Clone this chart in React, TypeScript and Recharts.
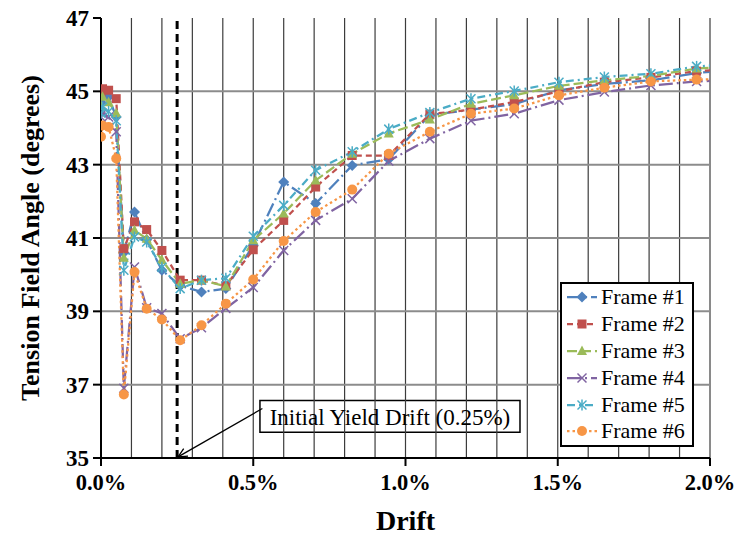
import React from "react";
import {
  LineChart,
  Line,
  XAxis,
  YAxis,
  ReferenceLine,
  ReferenceArea,
} from "recharts";

// drift in percent
const drift = [
  0, 0.005, 0.025, 0.05, 0.075, 0.11, 0.15, 0.2, 0.26, 0.33, 0.41, 0.5, 0.6,
  0.705, 0.825, 0.945, 1.08, 1.215, 1.357, 1.504, 1.653, 1.806, 1.956, 2.11,
];

const frame1 = [
  44.7, 44.9, 44.85, 44.3, 40.6, 41.71, 40.95, 40.12, 39.7, 39.53, 39.62, 40.8,
  42.53, 41.94, 42.98, 43.15, 44.35, 44.5, 44.65, 45.03, 45.2, 45.3, 45.5, 45.6,
];
const frame2 = [
  44.9, 45.07, 45.03, 44.8, 40.71, 41.44, 41.23, 40.66, 39.85, 39.85, 39.7,
  40.68, 41.48, 42.39, 43.25, 43.25, 44.38, 44.5, 44.71, 45.0, 45.25, 45.38,
  45.55, 45.62,
];
const frame3 = [
  44.6, 44.85, 44.7, 44.4, 40.46, 41.21, 40.98, 40.4, 39.75, 39.85, 39.68,
  40.94, 41.67, 42.57, 43.3, 43.85, 44.23, 44.66, 44.89, 45.15, 45.3, 45.42,
  45.62, 45.7,
];
const frame4 = [
  44.3, 44.4, 44.3, 43.9, 36.9, 40.21, 39.1, 38.94, 38.25, 38.55, 39.08, 39.65,
  40.66, 41.48, 42.07, 43.1, 43.71, 44.2, 44.39, 44.76, 44.98, 45.16, 45.27,
  45.32,
];
const frame5 = [
  44.4, 44.57, 44.45, 44.2, 40.12, 41.03, 40.89, 40.2, 39.62, 39.85, 39.9,
  41.05, 41.89, 42.85, 43.35, 43.97, 44.42, 44.8, 45.01, 45.25, 45.39, 45.48,
  45.68, 45.75,
];
const frame6 = [
  43.76, 44.07, 44.03, 43.17, 36.73, 40.07, 39.07, 38.78, 38.21, 38.62, 39.21,
  39.87, 40.92, 41.71, 42.32, 43.3, 43.9, 44.39, 44.53, 44.89, 45.1, 45.27,
  45.32, 45.35,
];

const xTicks = [0, 0.5, 1, 1.5, 2];
const yTicks = [35, 37, 39, 41, 43, 45, 47];
const xGrid = [
  0.1, 0.2, 0.3, 0.4, 0.5, 0.6, 0.7, 0.8, 0.9, 1, 1.1, 1.2, 1.3, 1.4, 1.5, 1.6,
  1.7, 1.8, 1.9, 2,
];
const yGrid = [37, 39, 41, 43, 45];

const yieldDrift = 0.25;
const noteText = "Initial Yield Drift (0.25%)";

const FONT = "Liberation Serif, Times New Roman, serif";

const series = [
  { key: "f1", name: "Frame #1", color: "#4F81BD", dash: "14 4 2 4", marker: "diamond" },
  { key: "f2", name: "Frame #2", color: "#C0504D", dash: "6 4", marker: "square" },
  { key: "f3", name: "Frame #3", color: "#9BBB59", dash: "10 4", marker: "triangle" },
  { key: "f4", name: "Frame #4", color: "#8064A2", dash: "14 4 2 4", marker: "x" },
  { key: "f5", name: "Frame #5", color: "#4BACC6", dash: "8 4 2 4", marker: "star" },
  { key: "f6", name: "Frame #6", color: "#F79646", dash: "2.5 3", marker: "circle" },
];

const data = drift.map((d, i) => ({
  drift: d,
  f1: frame1[i],
  f2: frame2[i],
  f3: frame3[i],
  f4: frame4[i],
  f5: frame5[i],
  f6: frame6[i],
}));

function Marker({ type, color, cx, cy }: { type: string; color: string; cx: number; cy: number }) {
  switch (type) {
    case "diamond":
      return <path d={`M${cx},${cy - 5.5}L${cx + 5.5},${cy}L${cx},${cy + 5.5}L${cx - 5.5},${cy}Z`} fill={color} />;
    case "square":
      return <rect x={cx - 4.5} y={cy - 4.5} width={9} height={9} fill={color} />;
    case "triangle":
      return <path d={`M${cx},${cy - 5.5}L${cx + 5},${cy + 4}L${cx - 5},${cy + 4}Z`} fill={color} />;
    case "x":
      return (
        <g stroke={color} strokeWidth={1.5}>
          <line x1={cx - 4.5} y1={cy - 4.5} x2={cx + 4.5} y2={cy + 4.5} />
          <line x1={cx - 4.5} y1={cy + 4.5} x2={cx + 4.5} y2={cy - 4.5} />
        </g>
      );
    case "star":
      return (
        <g stroke={color} strokeWidth={1.5}>
          <line x1={cx - 4.5} y1={cy - 4.5} x2={cx + 4.5} y2={cy + 4.5} />
          <line x1={cx - 4.5} y1={cy + 4.5} x2={cx + 4.5} y2={cy - 4.5} />
          <line x1={cx} y1={cy - 5.5} x2={cx} y2={cy + 5.5} />
        </g>
      );
    default:
      return <circle cx={cx} cy={cy} r={5} fill={color} />;
  }
}

function ArrowShape(props: any) {
  const { x1, y1, x2, y2 } = props;
  const ang = Math.atan2(y2 - y1, x2 - x1);
  const len = 10;
  const spread = 0.45;
  const ax = x2 - len * Math.cos(ang - spread);
  const ay = y2 - len * Math.sin(ang - spread);
  const bx = x2 - len * Math.cos(ang + spread);
  const by = y2 - len * Math.sin(ang + spread);
  return (
    <g stroke="#000" strokeWidth={1.3} fill="none">
      <line x1={x1} y1={y1} x2={x2} y2={y2} />
      <path d={`M${ax},${ay}L${x2},${y2}L${bx},${by}`} />
    </g>
  );
}

function LegendBox() {
  return (
    <div
      style={{
        position: "absolute",
        left: 560,
        top: 282,
        boxSizing: "border-box",
        width: 134,
        border: "2px solid #000",
        background: "#fff",
        padding: "0 0 0 4px",
        fontFamily: FONT,
        fontSize: 22,
        color: "#000",
      }}
    >
      {series.map((s) => (
        <div key={s.key} style={{ height: 26.8, display: "flex", alignItems: "center" }}>
          <svg width={32} height={14} style={{ marginRight: 3 }}>
            <line x1={1} y1={7} x2={31} y2={7} stroke={s.color} strokeWidth={2.25} strokeDasharray={s.dash} />
            <Marker type={s.marker} color={s.color} cx={16} cy={7} />
          </svg>
          <span style={{ lineHeight: 1, whiteSpace: "nowrap" }}>{s.name}</span>
        </div>
      ))}
    </div>
  );
}

export default function App() {
  return (
    <div style={{ position: "absolute", left: 0, top: 0, width: 736, height: 535, background: "#fff" }}>
      <LineChart
        width={736}
        height={535}
        data={data}
        margin={{ top: 18, right: 26, bottom: 0, left: 0 }}
      >
        {xGrid.map((v) => (
          <ReferenceLine key={`vx${v}`} x={v} stroke="#3c3c3c" strokeWidth={1.2} />
        ))}
        {yGrid.map((v) => (
          <ReferenceLine key={`hy${v}`} y={v} stroke="#8c8c8c" strokeWidth={2} />
        ))}
        <XAxis
          dataKey="drift"
          type="number"
          domain={[0, 2]}
          ticks={xTicks}
          allowDataOverflow
          height={77}
          tickSize={8}
          tickMargin={8}
          stroke="#000"
          strokeWidth={2}
          tick={{ fill: "#000", fontSize: 22.5, fontWeight: "bold", fontFamily: FONT }}
          tickFormatter={(v) => `${Number(v).toFixed(1)}%`}
          label={{
            value: "Drift",
            position: "insideBottom",
            offset: 5,
            fill: "#000",
            fontSize: 28,
            fontWeight: "bold",
            fontFamily: FONT,
          }}
        />
        <YAxis
          type="number"
          domain={[35, 47]}
          ticks={yTicks}
          allowDataOverflow
          width={101}
          tickSize={8}
          tickMargin={4}
          stroke="#000"
          strokeWidth={2}
          tick={{ fill: "#000", fontSize: 23, fontWeight: "bold", fontFamily: FONT }}
          label={{
            content: ({ viewBox }: any) => (
              <text
                x={viewBox.x + 30}
                y={viewBox.y + viewBox.height / 2}
                transform={`rotate(-90, ${viewBox.x + 30}, ${viewBox.y + viewBox.height / 2})`}
                textAnchor="middle"
                dominantBaseline="central"
                fill="#000"
                fontSize={26}
                fontWeight="bold"
                fontFamily={FONT}
              >
                Tension Field Angle  (degrees)
              </text>
            ),
          }}
        />
        <ReferenceLine x={yieldDrift} stroke="#000" strokeWidth={3} strokeDasharray="8 5" />
        <ReferenceLine
          segment={[
            { x: 0.53, y: 36.35 },
            { x: 0.253, y: 35.03 },
          ]}
          shape={ArrowShape}
        />
        <ReferenceArea
          x1={0.522}
          x2={1.376}
          y1={35.7}
          y2={36.57}
          fill="#fff"
          fillOpacity={1}
          stroke="#000"
          strokeWidth={1.5}
          label={{
            value: noteText,
            position: "center",
            fill: "#000",
            fontSize: 23,
            fontFamily: FONT,
          }}
        />
        {series.map((s) => (
          <Line
            key={s.key}
            dataKey={s.key}
            name={s.name}
            type="linear"
            stroke={s.color}
            strokeWidth={2.25}
            strokeDasharray={s.dash}
            isAnimationActive={false}
            dot={(p: any) => (
              <Marker key={`${s.key}-${p.index}`} type={s.marker} color={s.color} cx={p.cx} cy={p.cy} />
            )}
            activeDot={false}
          />
        ))}
      </LineChart>
      <LegendBox />
    </div>
  );
}
